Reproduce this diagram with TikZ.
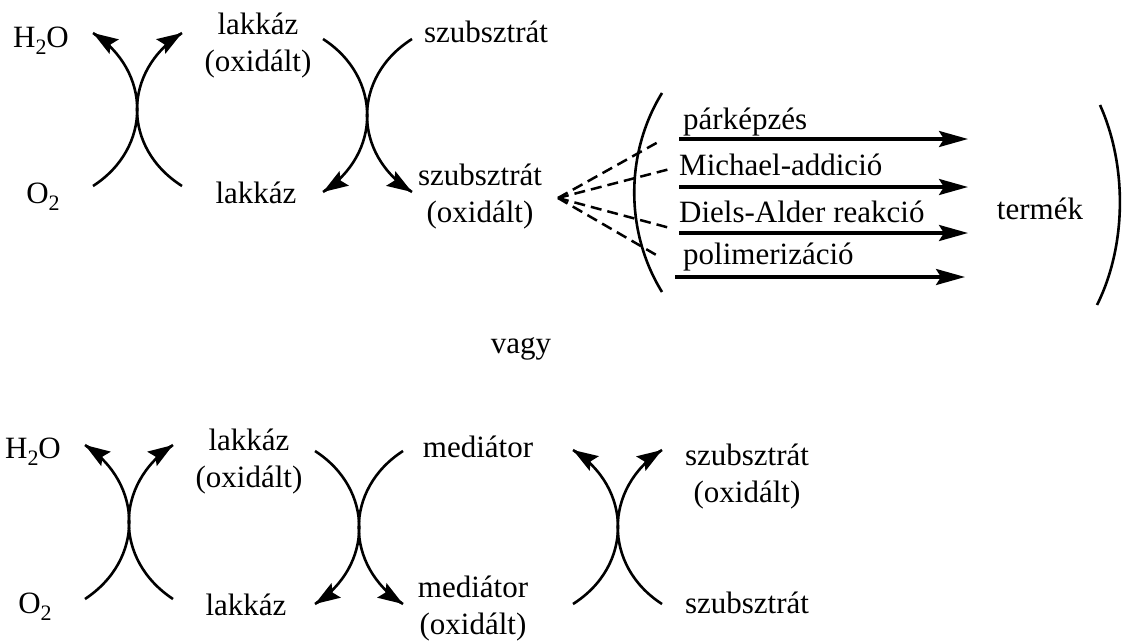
\documentclass[tikz,border=0pt]{standalone}
\usepackage{fontspec}
\setmainfont{Liberation Serif}
\usetikzlibrary{arrows.meta,calc}
\newcommand\sub[1]{\raisebox{-7pt}{\fontsize{22}{22}\selectfont #1}}
\newcommand\twoline[2]{\begin{tabular}[t]{@{}c@{}}#1\\#2\end{tabular}}
% curved reaction arrow: start, control 1, control 2, tip
\newcommand\carc[4]{\draw[arc] #1 .. controls #2 and #3 .. #4;
  \draw[ctip] ($#4!2pt!#3$) -- #4;}
\begin{document}
\begin{tikzpicture}[x=1pt,y=-1pt,
  lbl/.style={inner sep=0pt,anchor=base,font=\fontsize{31}{37}\selectfont},
  lbll/.style={lbl,anchor=base west},
  arc/.style={line width=2.6pt},
  ctip/.style={line width=2.6pt,-{Stealth[length=25pt,width=17pt,inset=4pt]}},
  harr/.style={line width=3.3pt,-{Stealth[length=29pt,width=16pt,inset=5pt]}},
  dsh/.style={line width=2.5pt,dash pattern=on 11pt off 6pt},
  paren/.style={line width=2.6pt}]
\useasboundingbox (0,0) rectangle (1122,642);
% ---- top scheme ----
\node[lbl] (h2oA) at (41,48) {H\sub{2}O};
\node[lbl] (o2A) at (43,203) {O\sub{2}};
\node[lbl] (lokA) at (258,35) {\twoline{lakkáz}{(oxidált)}};
\node[lbl] (lA) at (256,203) {lakkáz};
\node[lbl] (szA) at (486,43) {szubsztrát};
\node[lbl] (szoA) at (480,185) {\twoline{szubsztrát}{(oxidált)}};
\carc{(93,186)}{(152,148)}{(152,71)}{(93,33)}
\carc{(182,186)}{(122,148)}{(122,71)}{(182,33)}
\carc{(323,39)}{(382,77)}{(382,154)}{(323,192)}
\carc{(412,39)}{(352,77)}{(352,154)}{(412,192)}
\coordinate (fan) at (558,198);
\draw[dsh] (fan) -- (660,141);
\draw[dsh] (fan) -- (670,169);
\draw[dsh] (fan) -- (670,228);
\draw[dsh] (fan) -- (658,256);
\draw[paren] (662,93) .. controls (625,153) and (625,232) .. (662,292);
\draw[paren] (1100,105) .. controls (1127,165) and (1127,245) .. (1097,305);
\node[lbll] (r1) at (683,129) {párképzés};
\node[lbll] (r2) at (679,175) {Michael-addició};
\node[lbll] (r3) at (679,222) {Diels-Alder reakció};
\node[lbll] (r4) at (683,264) {polimerizáció};
\node[lbl] (term) at (1040,219) {termék};
\draw[harr] (679,139) -- (968,139);
\draw[harr] (679,187) -- (968,187);
\draw[harr] (679,233) -- (968,233);
\draw[harr] (675,277) -- (965,277);
\node[lbl] (vagy) at (521,353) {vagy};
% ---- bottom scheme ----
\node[lbl] (h2oB) at (33,458) {H\sub{2}O};
\node[lbl] (o2B) at (35,613) {O\sub{2}};
\node[lbl] (lokB) at (249,450) {\twoline{lakkáz}{(oxidált)}};
\node[lbl] (lB) at (246,615) {lakkáz};
\node[lbl] (mB) at (478,457) {mediátor};
\node[lbl] (moB) at (473,597) {\twoline{mediátor}{(oxidált)}};
\node[lbl] (szoB) at (747,465) {\twoline{szubsztrát}{(oxidált)}};
\node[lbl] (szB) at (747,613) {szubsztrát};
\carc{(85,599)}{(144,560)}{(144,484)}{(85,445)}
\carc{(173,599)}{(114,560)}{(114,484)}{(173,445)}
\carc{(315,451)}{(374,489)}{(374,566)}{(315,604)}
\carc{(403,451)}{(344,489)}{(344,566)}{(403,604)}
\carc{(573,604)}{(633,566)}{(633,488)}{(573,450)}
\carc{(662,604)}{(603,566)}{(603,488)}{(662,450)}
\end{tikzpicture}
\end{document}
